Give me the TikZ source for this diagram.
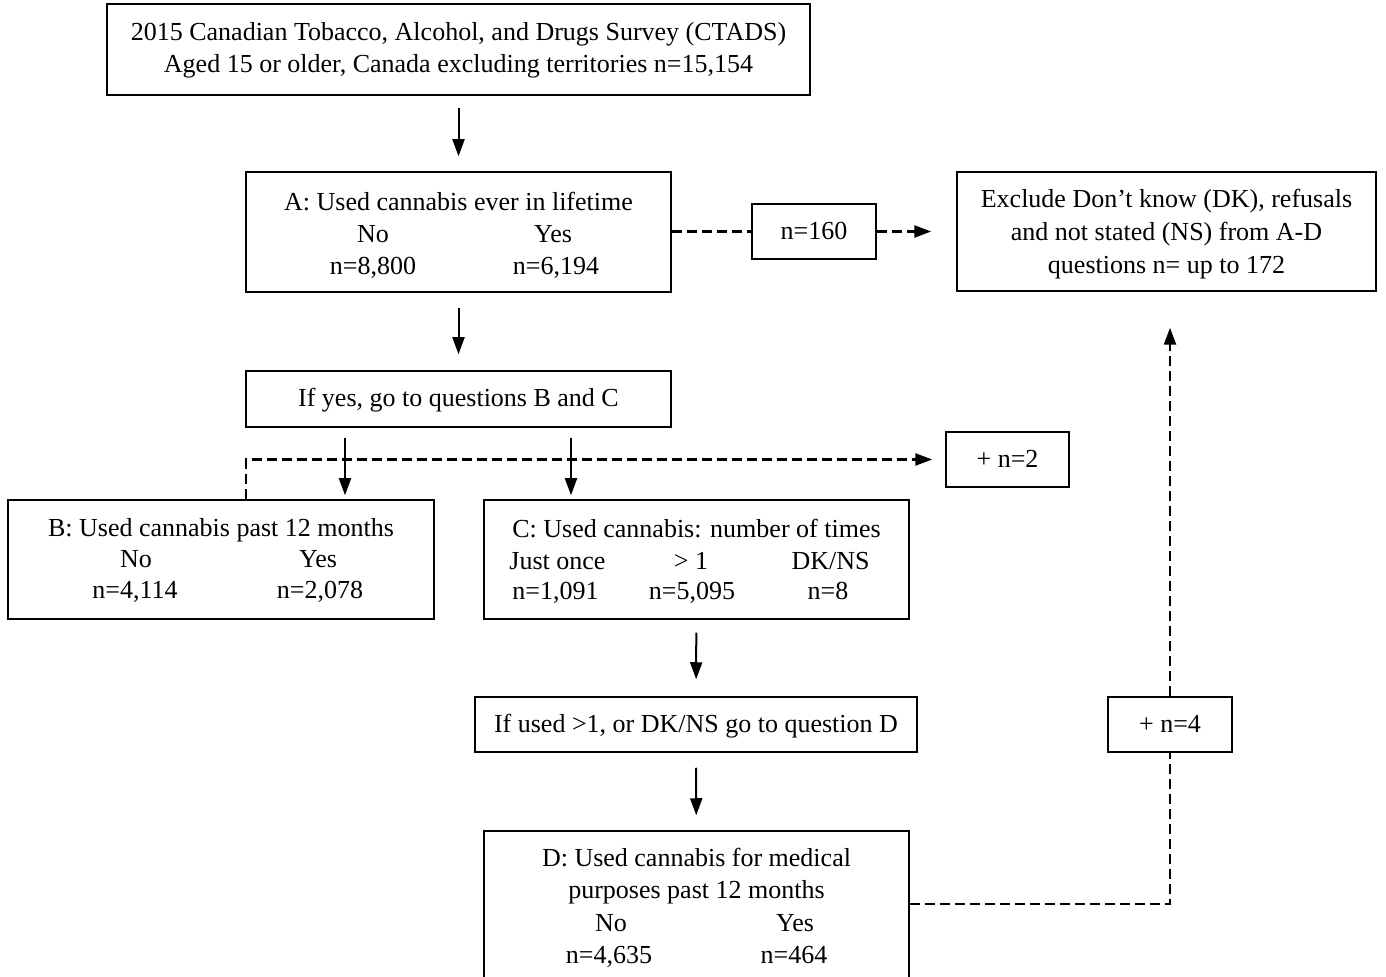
\documentclass[tikz,border=0pt]{standalone}
\usepackage{fontspec}
\setmainfont{Liberation Serif}
\usetikzlibrary{arrows.meta,calc,fit}
\begin{document}
\begin{tikzpicture}[x=0.5pt,y=-0.5pt,
  font=\fontsize{13}{16}\selectfont,
  box/.style={draw, line width=0.75pt, inner sep=0pt},
  tx/.style={inner sep=0pt, align=center, anchor=center},
  tl/.style={anchor=base, inner sep=0pt},
  arr/.style={line width=1pt, -{Triangle[length=8.5pt,width=6pt]}},
  dl/.style={line width=1.2pt, dash pattern=on 5pt off 2.5pt},
  darr/.style={dl, -{Triangle[length=8.5pt,width=6pt]}}]
\useasboundingbox (0,0) rectangle (1386,977);

% boxes
\node[box, fit={(107,4) (810,95)}] (top) {};
\node[box, fit={(246,172) (671,292)}] (A) {};
\node[box, fit={(752,204) (876,259)}] (n160) {};
\node[box, fit={(957,172) (1376,291)}] (Excl) {};
\node[box, fit={(246,371) (671,427)}] (ifyes) {};
\node[box, fit={(946,432) (1069,487)}] (n2) {};
\node[box, fit={(8,500) (434,619)}] (B) {};
\node[box, fit={(484,500) (909,619)}] (C) {};
\node[box, fit={(475,697) (917,752)}] (ifused) {};
\node[box, fit={(1108,697) (1232,752)}] (n4) {};
\node[box, fit={(484,831) (909,990)}] (D) {};

% single-block texts
\node[tl] (topt1) at (458.5,41) {2015 Canadian Tobacco, Alcohol, and Drugs Survey (CTADS)};
\node[tl] (topt2) at (458.5,73) {Aged 15 or older, Canada excluding territories n=15,154};
\node[tl] (n160t) at (814,240) {n=160};
\node[tl] (Ex1) at (1166.5,208) {Exclude Don’t know (DK), refusals};
\node[tl] (Ex2) at (1166.5,241) {and not stated (NS) from A-D};
\node[tl] (Ex3) at (1166.5,274) {questions n= up to 172};
\node[tl] (ifyest) at (458.5,407) {If yes, go to questions B and C};
\node[tl] (n2t) at (1007.5,468) {+ n=2};
\node[tl] (ifusedt) at (696,733) {If used >1, or DK/NS go to question D};
\node[tl] (n4t) at (1170,733) {+ n=4};

% texts in A
\node[tl] (At) at (458.5,211) {A: Used cannabis ever in lifetime};
\node[tl] (An) at (373,243) {No};
\node[tl] (Ay) at (553,243) {Yes};
\node[tl] (Anv) at (373,275) {n=8,800};
\node[tl] (Ayv) at (556,275) {n=6,194};
% texts in B
\node[tl] (Bt) at (221,537) {B: Used cannabis past 12 months};
\node[tl] (Bn) at (136,568) {No};
\node[tl] (By) at (318,568) {Yes};
\node[tl] (Bnv) at (135,599) {n=4,114};
\node[tl] (Byv) at (320,599) {n=2,078};
% texts in C
\node[tl] (Ct) at (696.5,538) {C: Used cannabis: number of times};
\node[tl] (C1) at (557.5,570) {Just once};
\node[tl] (C2) at (691,570) {> 1};
\node[tl] (C3) at (830.5,570) {DK/NS};
\node[tl] (C1v) at (555.5,600) {n=1,091};
\node[tl] (C2v) at (692,600) {n=5,095};
\node[tl] (C3v) at (828,600) {n=8};
% texts in D
\node[tl] (Dt1) at (696.5,866) {D: Used cannabis for medical};
\node[tl] (Dt2) at (696.5,898) {purposes past 12 months};
\node[tl] (Dn) at (611,931) {No};
\node[tl] (Dy) at (795,931) {Yes};
\node[tl] (Dnv) at (609,963) {n=4,635};
\node[tl] (Dyv) at (794,963) {n=464};

% solid arrows
\draw[arr, shorten <=6pt, shorten >=7.5pt] (top) -- (A);
\draw[arr, shorten <=7.5pt, shorten >=8pt] (A) -- (ifyes);
\draw[arr] ($(ifyes.south)+(-113.5,10)$) -- ($(B.north)+(124,-4)$);
\draw[arr] ($(ifyes.south)+(112.5,10)$) -- ($(C.north)+(-125.5,-4)$);
\draw[arr, shorten <=6.5pt, shorten >=8.5pt] (C) -- (ifused);
\draw[arr, shorten <=7.5pt, shorten >=7.5pt] (ifused) -- (D);

% dashed connectors
\draw[darr, shorten >=6.5pt] ($(B.north west)+(239,0)$) |- (n2.west);
\draw[dl] (A.east |- n160.west) -- (n160.west);
\draw[darr, shorten >=12.5pt] (n160.east) -- (n160.east -| Excl.west);
\draw[dl] ($(D.east)+(0,-6.5)$) -| (n4.south);
\draw[darr, shorten >=18pt] (n4.north) -- (n4.north |- Excl.south);
\end{tikzpicture}
\end{document}
